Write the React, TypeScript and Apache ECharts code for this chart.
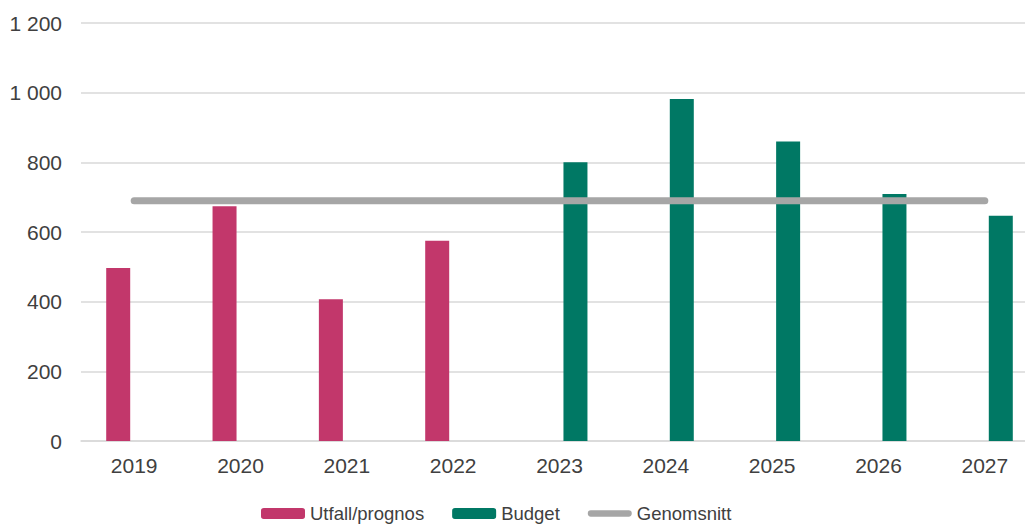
import React, { useEffect, useRef } from "react";
import * as echarts from "echarts";

const categories = ["2019", "2020", "2021", "2022", "2023", "2024", "2025", "2026", "2027"];
const utfall = [497, 674, 407, 575, null, null, null, null, null];
const budget = [null, null, null, null, 800, 982, 860, 709, 647];
const genomsnitt = [690, 690, 690, 690, 690, 690, 690, 690, 690];
const yTicks = { min: 0, max: 1200, interval: 200 };

const fmt = (v: number) => String(v).replace(/\B(?=(\d{3})+(?!\d))/g, " ");

export default function App() {
  const ref = useRef<HTMLDivElement>(null);
  useEffect(() => {
    if (!ref.current) return;
    const chart = echarts.init(ref.current, undefined, { renderer: "svg" });
    const font = "'Liberation Sans', Arial, sans-serif";
    const lineIcon = "path://M3.5,0 H45.5 A3.5,3.5 0 0 1 45.5,7 H3.5 A3.5,3.5 0 0 1 3.5,0 Z";
    chart.setOption({
      animation: false,
      backgroundColor: "#ffffff",
      textStyle: { fontFamily: font },
      grid: {
        left: 81,
        width: 957,
        top: 23,
        bottom: 84,
        containLabel: false,
        outerBoundsMode: "none",
      },
      legend: {
        top: 504,
        left: 261,
        padding: 0,
        itemWidth: 44,
        itemHeight: 11,
        itemGap: 28,
        textStyle: { fontSize: 18.5, color: "#404040", fontFamily: font },
        data: [
          { name: "Utfall/prognos" },
          { name: "Budget" },
          { name: "Genomsnitt", icon: lineIcon, itemStyle: { color: "#A6A6A6" } },
        ],
      },
      xAxis: {
        type: "category",
        data: categories,
        axisLine: { show: true, lineStyle: { color: "#D9D9D9", width: 1.5 } },
        axisTick: { show: false },
        axisLabel: { fontSize: 21, color: "#404040", margin: 14, fontFamily: font },
      },
      yAxis: {
        type: "value",
        min: yTicks.min,
        max: yTicks.max,
        interval: yTicks.interval,
        axisLine: { show: false },
        axisTick: { show: false },
        splitLine: { lineStyle: { color: "#D9D9D9", width: 1.5 } },
        axisLabel: { fontSize: 21, color: "#404040", margin: 19, fontFamily: font, formatter: fmt },
      },
      series: [
        {
          name: "Utfall/prognos",
          type: "bar",
          data: utfall,
          barWidth: 24,
          barGap: "33%",
          itemStyle: { color: "#C2376B" },
        },
        {
          name: "Budget",
          type: "bar",
          data: budget,
          barWidth: 24,
          barGap: "33%",
          itemStyle: { color: "#007864" },
        },
        {
          name: "Genomsnitt",
          type: "line",
          data: genomsnitt,
          symbol: "none",
          lineStyle: { color: "#A6A6A6", width: 7, cap: "round" },
          itemStyle: { color: "#A6A6A6" },
        },
      ],
    });
    return () => chart.dispose();
  }, []);
  return (
    <div
      ref={ref}
      style={{ position: "fixed", left: 0, top: 0, width: 1025, height: 525 }}
    />
  );
}
